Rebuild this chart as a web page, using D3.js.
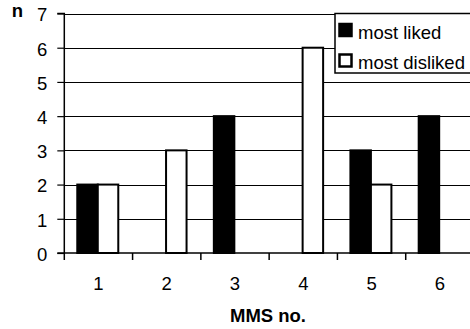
<!DOCTYPE html>
<html><head><meta charset="utf-8">
<script src="https://cdn.jsdelivr.net/npm/d3@7"></script>
<style>body{margin:0;background:#fff;}svg{display:block;font-family:"Liberation Sans",Arial,sans-serif;}</style>
</head><body><svg id="c" width="470" height="329"></svg>
<script>
const categories = ["1","2","3","4","5","6"];
const series = ["most liked","most disliked"];
const mostLiked = [2,0,4,0,3,4];
const mostDisliked = [2,3,0,6,2,0];
const yTicks = [0,1,2,3,4,5,6,7];
const fills = ["#000","#fff"];

const FS = 18.5;
const svg = d3.select("#c");
const pLeft = 64.3, pRight = 474, pTop = 13.5, pBottom = 253;
const x = d3.scaleBand().domain(categories).range([pLeft, pRight]).padding(0);
const y = d3.scaleLinear().domain([0,7]).range([pBottom, pTop]);
const bw = x.bandwidth();
const xs = d3.scaleBand().domain(series).range([bw*0.19, bw*0.19 + 41]).padding(0);

// gridlines
svg.append("g").selectAll("line").data(yTicks.filter(d=>d>0)).join("line")
  .attr("x1", pLeft).attr("x2", 470).attr("y1", d=>Math.round(y(d))+0.5).attr("y2", d=>Math.round(y(d))+0.5)
  .attr("stroke","#000").attr("stroke-width",1.2);

// bars
const data = categories.map((c,i)=>({c, vals:[mostLiked[i], mostDisliked[i]]}));
const g = svg.append("g");
data.forEach(d=>{
  d.vals.forEach((v,j)=>{
    if (v<=0) return;
    g.append("rect")
      .attr("x", x(d.c) + xs(series[j]))
      .attr("y", y(v))
      .attr("width", xs.bandwidth())
      .attr("height", y(0)-y(v))
      .attr("fill", fills[j]).attr("stroke","#000").attr("stroke-width",2);
  });
});

// y axis
const ya = d3.axisLeft(y).tickValues(yTicks).tickSize(7).tickPadding(10).tickFormat(d3.format("d"));
const yg = svg.append("g").attr("transform",`translate(${pLeft},0)`).call(ya);
yg.select(".domain").attr("stroke","#000").attr("stroke-width",1.5).attr("d",`M-7,${pTop}H0V${pBottom}`);
yg.selectAll(".tick line").attr("stroke","#000").attr("stroke-width",1.2);
yg.selectAll("text").attr("font-size",FS).attr("fill","#000").attr("dy","0.4em")
  .attr("font-family","Liberation Sans, Arial, sans-serif");

// x axis
const xa = d3.axisBottom(x).tickSize(0).tickPadding(23.5);
const xg = svg.append("g").attr("transform",`translate(0,${pBottom})`).call(xa);
xg.select(".domain").remove();
xg.selectAll("text").attr("font-size",FS).attr("fill","#000").attr("font-family","Liberation Sans, Arial, sans-serif");
svg.append("line").attr("x1",pLeft-7).attr("x2",470).attr("y1",pBottom).attr("y2",pBottom).attr("stroke","#000").attr("stroke-width",1.5);
svg.append("g").selectAll("line").data(categories).join("line")
  .attr("x1",d=>x(d)).attr("x2",d=>x(d)).attr("y1",pBottom).attr("y2",pBottom+7)
  .attr("stroke","#000").attr("stroke-width",1.5);

// axis titles
svg.append("text").attr("x",268).attr("y",322).attr("text-anchor","middle")
  .attr("font-size",FS).attr("font-weight","bold").text("MMS no.");
svg.append("text").attr("x",17.5).attr("y",17).attr("text-anchor","middle")
  .attr("font-size",FS).attr("font-weight","bold").text("n");

// legend
const lg = svg.append("g");
lg.append("rect").attr("x",335).attr("y",pTop).attr("width",140).attr("height",59.5)
  .attr("fill","#fff").attr("stroke","#000").attr("stroke-width",1.5);
series.forEach((s,i)=>{
  const yy = 24 + i*30.5;
  lg.append("rect").attr("x",339.5).attr("y",yy).attr("width",12).attr("height",12)
    .attr("fill",fills[i]).attr("stroke","#000").attr("stroke-width",2.5);
  lg.append("text").attr("x",358).attr("y",yy+14.5).attr("font-size",FS).text(s);
});
</script></body></html>
